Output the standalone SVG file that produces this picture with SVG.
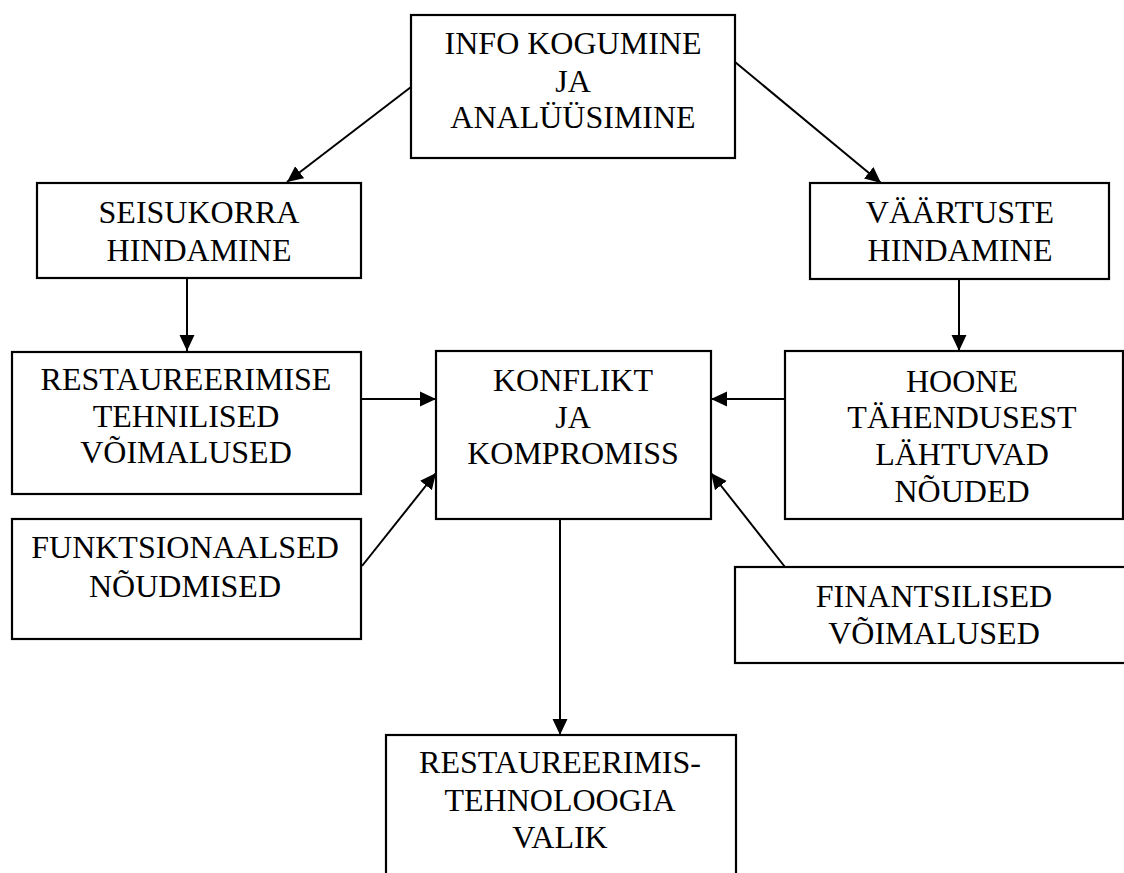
<svg xmlns="http://www.w3.org/2000/svg" width="1124" height="873" viewBox="0 0 1124 873">
<style>
.box{fill:#fff;stroke:#000;stroke-width:2.2}
.t{font-family:"Liberation Serif","Times New Roman",serif;font-size:32px;fill:#000;text-anchor:middle}
.c{stroke:#000;stroke-width:2;fill:none;marker-end:url(#ah)}
</style>
<defs>
<marker id="ah" markerUnits="userSpaceOnUse" markerWidth="16" markerHeight="16" viewBox="0 0 15 14" refX="15" refY="7" orient="auto">
<path d="M0,0 L15,7 L0,14 z" fill="#000"/>
</marker>
</defs>
<rect width="1124" height="873" fill="#fff"/>
<g id="n-info">
<rect class="box" x="411" y="15" width="324" height="143"/>
<text class="t" x="573" y="54">INFO KOGUMINE</text>
<text class="t" x="573" y="92">JA</text>
<text class="t" x="573" y="128">ANALÜÜSIMINE</text>
</g>
<g id="n-seisukord">
<rect class="box" x="37" y="183" width="324" height="95"/>
<text class="t" x="199" y="223">SEISUKORRA</text>
<text class="t" x="199" y="261">HINDAMINE</text>
</g>
<g id="n-vaartused">
<rect class="box" x="810" y="183" width="299" height="96"/>
<text class="t" x="960" y="223">VÄÄRTUSTE</text>
<text class="t" x="960" y="261">HINDAMINE</text>
</g>
<g id="n-tehnilised">
<rect class="box" x="12" y="352" width="349" height="142"/>
<text class="t" x="186" y="390">RESTAUREERIMISE</text>
<text class="t" x="186" y="427">TEHNILISED</text>
<text class="t" x="186" y="463">VÕIMALUSED</text>
</g>
<g id="n-konflikt">
<rect class="box" x="436" y="351" width="275" height="168"/>
<text class="t" x="573" y="391">KONFLIKT</text>
<text class="t" x="573" y="428">JA</text>
<text class="t" x="573" y="464">KOMPROMISS</text>
</g>
<g id="n-hoone">
<rect class="box" x="785" y="351" width="338" height="168"/>
<text class="t" x="962" y="392">HOONE</text>
<text class="t" x="962" y="428">TÄHENDUSEST</text>
<text class="t" x="962" y="465">LÄHTUVAD</text>
<text class="t" x="962" y="502">NÕUDED</text>
</g>
<g id="n-funktsionaalsed">
<rect class="box" x="12" y="519" width="349" height="120"/>
<text class="t" x="185" y="558">FUNKTSIONAALSED</text>
<text class="t" x="185" y="597">NÕUDMISED</text>
</g>
<g id="n-finants">
<rect class="box" x="735" y="567" width="400" height="96"/>
<text class="t" x="934" y="607">FINANTSILISED</text>
<text class="t" x="934" y="644">VÕIMALUSED</text>
</g>
<g id="n-valik">
<rect class="box" x="386" y="735" width="350" height="150"/>
<text class="t" x="560" y="773">RESTAUREERIMIS-</text>
<text class="t" x="560" y="811">TEHNOLOOGIA</text>
<text class="t" x="560" y="848">VALIK</text>
</g>
<g id="connectors">
<line class="c" x1="411" y1="87" x2="287" y2="182"/>
<line class="c" x1="735" y1="62" x2="881" y2="183"/>
<line class="c" x1="187" y1="278" x2="187" y2="351"/>
<line class="c" x1="959" y1="279" x2="959" y2="351"/>
<line class="c" x1="361" y1="399" x2="436" y2="399"/>
<line class="c" x1="785" y1="399" x2="711" y2="399"/>
<line class="c" x1="362" y1="566" x2="436" y2="473"/>
<line class="c" x1="785" y1="567" x2="711" y2="473"/>
<line class="c" x1="560" y1="519" x2="560" y2="735"/>
</g>
</svg>
